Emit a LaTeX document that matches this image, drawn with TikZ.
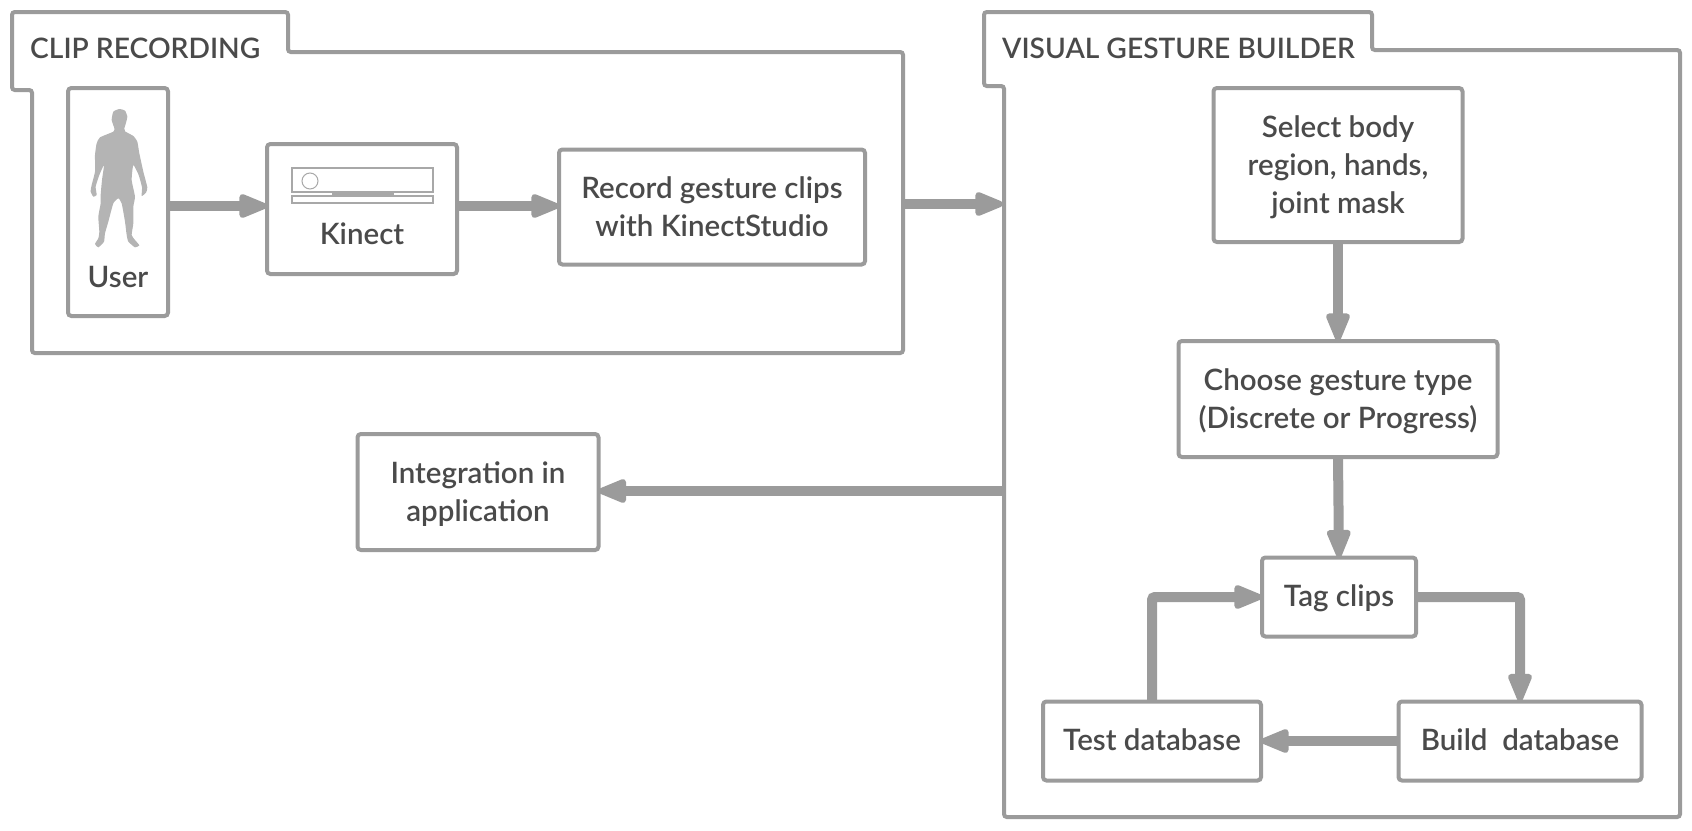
\documentclass[tikz,border=0pt]{standalone}
\usepackage{fontspec}
\setmainfont{Lato Semibold}
\usepackage{tikz}
\usetikzlibrary{arrows.meta,positioning,calc}
\definecolor{linegray}{HTML}{9B9B9B}
\definecolor{textgray}{HTML}{4A4A4A}
\definecolor{persongray}{HTML}{B4B4B4}
\definecolor{icongray}{HTML}{A8A8A8}
\newcommand{\labelfont}{\fontsize{29.5}{38}\selectfont}
\newcommand{\firstline}{\rule{0pt}{33pt}}
\tikzset{
 boxnode/.style={draw=linegray, line width=4pt, rounded corners=1.2mm, outer sep=0pt, inner sep=0pt, text=textgray, font=\labelfont},
 oneline/.style={text height=25pt, text depth=6pt},
 framepath/.style={draw=linegray, line width=4pt, rounded corners=1mm},
 flowarrow/.style={-{Stealth[length=33pt,width=25pt,inset=0pt,round,line width=6pt]}, draw=linegray, line width=10pt, rounded corners=1mm},
 titlelabel/.style={text=textgray, font=\fontsize{28.2}{38}\selectfont, inner sep=0pt, anchor=base west},
 iconpart/.style={draw=icongray, line width=1.5pt}
}
\begin{document}
\begin{tikzpicture}[x=1pt,y=-1pt]
 \useasboundingbox (0,0) rectangle (1692,830);
 % frames
 \draw[framepath] (12,12) -- (288,12) -- (288,52) -- (903,52) -- (903,353) -- (32,353) -- (32,90) -- (12,90) -- cycle;
 \draw[framepath] (984,12) -- (1372,12) -- (1372,50) -- (1680,50) -- (1680,817) -- (1004,817) -- (1004,86) -- (984,86) -- cycle;
 \node[titlelabel] (cliptitle) at (30,58) {CLIP RECORDING};
 \node[titlelabel] (vgbtitle) at (1002,58) {VISUAL GESTURE BUILDER};
 \coordinate (clipout) at (905,204);
 \coordinate (vgbin) at (1003,204);
 \coordinate (vgbout) at (1004,491);
 % clip recording
 \node[boxnode, minimum width=100pt, minimum height=228pt] (user) at (118,202) {};
 \node[boxnode, draw=none, anchor=base] (userlabel) at (118,287) {User};
 \node[boxnode, minimum width=190pt, minimum height=130pt] (kinect) at (362,209) {};
 \node[boxnode, draw=none, anchor=base] (kinectlabel) at (362,244) {Kinect};
 \node[boxnode, minimum width=306pt, minimum height=115pt] (record) at (712,207) {\begin{tabular}{@{}c@{}} \firstline Record gesture clips \\ with KinectStudio \end{tabular}};
 % user figure
 \begin{scope}[shift={(80,100)},scale=1/3]
  \fill[persongray] plot[smooth cycle, tension=0.3] coordinates {(118,27) (135,32) (142,50) (137,72) (133,85) (135,94) (160,108) (172,125) (178,160) (190,215) (202,262) (198,278) (185,288) (186,262) (176,225) (160,195) (155,240) (165,290) (160,320) (160,370) (155,405) (165,420) (178,436) (165,442) (145,425) (140,405) (135,365) (125,310) (115,295) (100,310) (85,365) (75,400) (72,425) (55,442) (45,432) (55,415) (58,395) (55,350) (62,310) (62,285) (66,240) (72,195) (58,225) (47,260) (50,285) (40,290) (32,275) (35,255) (45,215) (45,165) (50,130) (60,112) (100,95) (103,85) (95,60) (100,35)};
 \end{scope}
 % kinect sensor
 \draw[iconpart] (292,168) rectangle (433,192);
 \draw[iconpart] (292,196) rectangle (433,203);
 \draw[iconpart, line width=1pt] (310,181) circle (8pt);
 \fill[icongray] (332,192) rectangle (394,196);
 % gesture builder
 \node[boxnode, minimum width=249pt, minimum height=154pt] (select) at (1338,165) {\begin{tabular}{@{}c@{}} \firstline Select body \\ region, hands, \\ joint mask \end{tabular}};
 \node[boxnode, minimum width=319pt, minimum height=116pt] (choose) at (1338,399) {\begin{tabular}{@{}c@{}} \firstline Choose gesture type \\ (Discrete or Progress) \end{tabular}};
 \node[boxnode, oneline, minimum width=154pt, minimum height=79pt] (tag) at (1339,597) {Tag clips};
 \node[boxnode, oneline, minimum width=218pt, minimum height=79pt] (test) at (1152,741) {Test database};
 \node[boxnode, oneline, minimum width=243pt, minimum height=79pt] (build) at (1520,741) {Build\ \ database};
 \node[boxnode, minimum width=241pt, minimum height=116pt] (integration) at (478,492) {\begin{tabular}{@{}c@{}} \firstline Integration in \\ application \end{tabular}};
 % arrows
 \draw[flowarrow] (user.east |- 0,206) -- (kinect.west |- 0,206);
 \draw[flowarrow] (kinect.east |- 0,206) -- (record.west |- 0,206);
 \draw[flowarrow] (clipout) -- (vgbin);
 \draw[flowarrow] (vgbout) -- (integration.east |- vgbout);
 \draw[flowarrow] (select.south) -- (choose.north);
 \draw[flowarrow] (choose.south) -- (tag.north);
 \draw[flowarrow] (tag.east) -| (build.north);
 \draw[flowarrow] (build.west) -- (test.east);
 \draw[flowarrow] (test.north) |- (tag.west);
\end{tikzpicture}
\end{document}
